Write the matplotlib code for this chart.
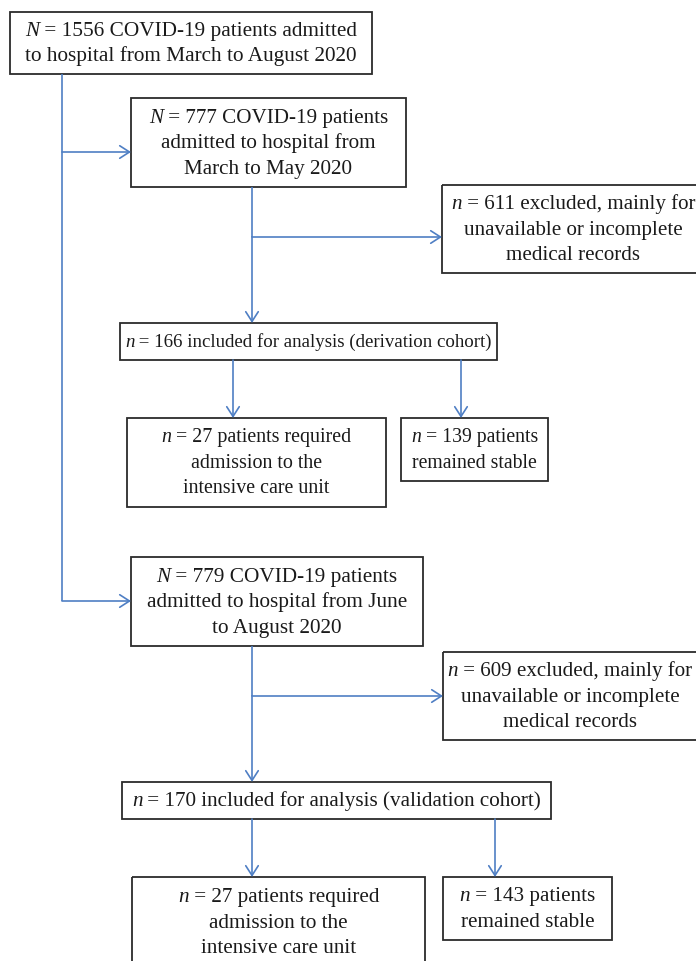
import matplotlib
matplotlib.use("Agg")
import matplotlib.pyplot as plt
from matplotlib.patches import Rectangle, FancyArrowPatch

plt.rcParams['font.family'] = ['Liberation Serif', 'DejaVu Serif']

# box texts: (italic symbol, rest of first line), then further lines
total_text = [("N", " = 1556 COVID-19 patients admitted"), "to hospital from March to August 2020"]
deriv_text = [("N", " = 777 COVID-19 patients"), "admitted to hospital from", "March to May 2020"]
deriv_excl = [("n", " = 611 excluded, mainly for"), "unavailable or incomplete", "medical records"]
deriv_incl = [("n", " = 166 included for analysis (derivation cohort)")]
deriv_icu = [("n", " = 27 patients required"), "admission to the", "intensive care unit"]
deriv_stable = [("n", " = 139 patients"), "remained stable"]
valid_text = [("N", " = 779 COVID-19 patients"), "admitted to hospital from June", "to August 2020"]
valid_excl = [("n", " = 609 excluded, mainly for"), "unavailable or incomplete", "medical records"]
valid_incl = [("n", " = 170 included for analysis (validation cohort)")]
valid_icu = [("n", " = 27 patients required"), "admission to the", "intensive care unit"]
valid_stable = [("n", " = 143 patients"), "remained stable"]

W, H = 696, 961
fig = plt.figure(figsize=(W / 100, H / 100), dpi=100)
ax = fig.add_axes([0, 0, 1, 1])
ax.set_xlim(0, W)
ax.set_ylim(H, 0)
ax.axis("off")
renderer = fig.canvas.get_renderer()

BLUE = "#4f7fc4"
EDGE = "#2b2b2b"
TXT = "#1a1a1a"
LS = 25.5     # line step in pixels
FS_H = 15.3   # size that matches the glyph height of the reference


def width(s, fs, style="normal"):
    t = ax.text(0, 0, s, fontsize=fs, style=style)
    w = t.get_window_extent(renderer).width
    t.remove()
    return w


def line_width(ln, fs):
    if isinstance(ln, tuple):
        return width(ln[0], fs, "italic") + width(ln[1], fs)
    return width(ln, fs)


def box(x0, x1, y0, y1, lines, target, cx=None, room=None):
    # target: (line index, width in px of that line in the reference)
    ax.add_patch(Rectangle((x0, y0), x1 - x0, y1 - y0, fill=False,
                           ec=EDGE, lw=1.3))
    if cx is None:
        cx = (x0 + x1) / 2
    if room is None:
        room = x1 - x0 - 10
    idx, tw = target
    fs_w = 14 * tw / line_width(lines[idx], 14)
    fs = (fs_w * FS_H) ** 0.5
    widest = max(line_width(ln, fs) for ln in lines)
    if widest > room:
        fs *= room / widest
    cy = (y0 + y1) / 2
    n = len(lines)
    for i, ln in enumerate(lines):
        yb = cy + (i - (n - 1) / 2) * LS + 0.27 * fs * 100 / 72
        lw_ = line_width(ln, fs)
        xl = cx - lw_ / 2
        if isinstance(ln, tuple):
            w1 = width(ln[0], fs, "italic")
            ax.text(xl, yb, ln[0], fontsize=fs, style="italic", ha="left",
                    va="baseline", color=TXT)
            ax.text(xl + w1, yb, ln[1], fontsize=fs, ha="left",
                    va="baseline", color=TXT)
        else:
            ax.text(xl, yb, ln, fontsize=fs, ha="left", va="baseline", color=TXT)


def line(xs, ys):
    ax.plot(xs, ys, color=BLUE, lw=1.2, solid_capstyle="butt")


def arrow(p0, p1):
    ax.add_patch(FancyArrowPatch(p0, p1, arrowstyle="->,head_length=0.7,head_width=0.45",
                                 mutation_scale=10, color=BLUE, lw=1.2,
                                 shrinkA=0, shrinkB=0))


# boxes
box(10, 372, 12, 74, total_text, (0, 334))
box(131, 406, 98, 187, deriv_text, (0, 240))
box(442, 698, 185, 273, deriv_excl, (0, 242), cx=573, room=246)
box(120, 497, 323, 360, deriv_incl, (0, 362))
box(127, 386, 418, 507, deriv_icu, (0, 179))
box(401, 548, 418, 481, deriv_stable, (0, 119))
box(131, 423, 557, 646, valid_text, (0, 242))
box(443, 698, 652, 740, valid_excl, (0, 243), cx=570, room=246)
box(122, 551, 782, 819, valid_incl, (0, 410))
box(132, 425, 877, 967, valid_icu, (0, 202))
box(443, 612, 877, 940, valid_stable, (0, 136))

# connectors
line([62, 62], [74, 601])
arrow((62, 152), (131, 152))
arrow((62, 601), (131, 601))

line([252, 252], [187, 237])
arrow((252, 237), (252, 323))
arrow((252, 237), (442, 237))
arrow((233, 360), (233, 418))
arrow((461, 360), (461, 418))

line([252, 252], [646, 696])
arrow((252, 696), (252, 782))
arrow((252, 696), (443, 696))
arrow((252, 819), (252, 877))
arrow((495, 819), (495, 877))

fig.savefig("out.png", dpi=100)
